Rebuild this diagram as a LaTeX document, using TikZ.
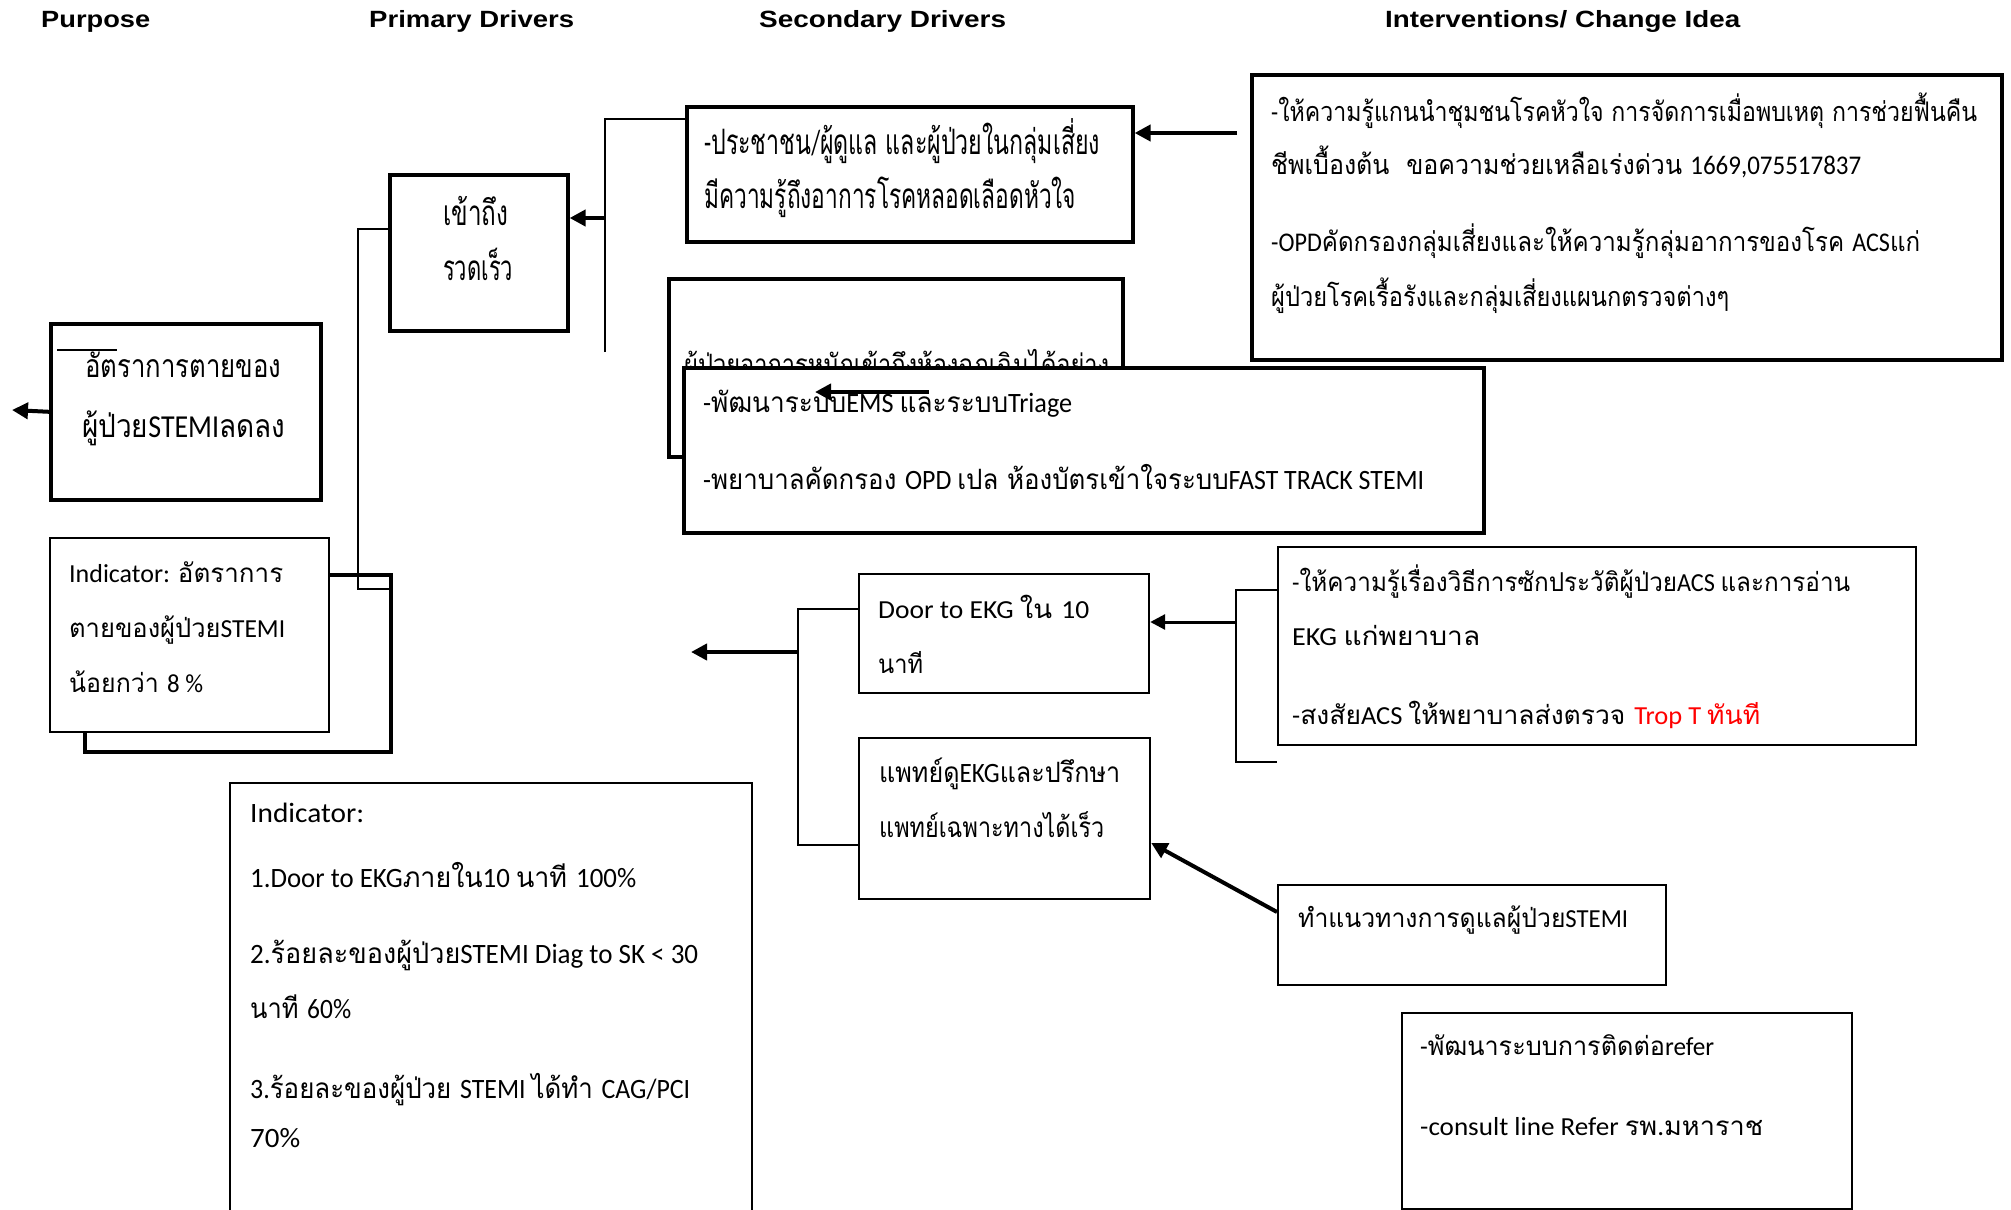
\documentclass[tikz,border=0pt]{standalone}
\usepackage{fontspec}
\usepackage{graphicx}
\usetikzlibrary{arrows.meta,calc}
\setmainfont{Carlito}
\newfontfamily\thaifont[Script=Thai]{Loma}
\newfontfamily\hdrfont{Liberation Sans}
\XeTeXinterchartokenstate=1
\newXeTeXintercharclass\ThaiClass
\newcount\thaicnt
\thaicnt="0E00
\loop
  \XeTeXcharclass\thaicnt=\ThaiClass
  \ifnum\thaicnt<"0E7F
  \advance\thaicnt by 1
\repeat
\XeTeXinterchartoks 0 \ThaiClass = {\thaifont}
\XeTeXinterchartoks 4095 \ThaiClass = {\thaifont}
\XeTeXinterchartoks \ThaiClass 0 = {\rmfamily}
\XeTeXinterchartoks 4095 0 = {\rmfamily}
\newcommand\hdrsel{\XeTeXinterchartokenstate=0 \hdrfont\bfseries\fontsize{23.5}{28}\selectfont}
\tikzset{
  thickbox/.style={draw, line width=3.6pt, fill=white, inner sep=0pt, anchor=north west},
  medbox/.style={draw, line width=2.2pt, fill=white, inner sep=0pt, anchor=north west},
  thinbox/.style={draw, line width=1.5pt, fill=white, inner sep=0pt, anchor=north west},
  txt/.style={anchor=base west, inner sep=0pt},
  hdr/.style={anchor=base west, inner sep=0pt, font=\hdrsel},
  conn/.style={line width=1.5pt},
  arr/.style={line width=4pt, -{Triangle[length=16pt,width=16pt]}},
  arrthin/.style={line width=3pt, -{Triangle[length=15pt,width=15pt]}}
}
% name, x, baseline y, width, font size, text
\newcommand\tline[6]{\node[txt, font=\fontsize{#5}{#5}\selectfont] (#1) at (#2,#3) {\resizebox{#4pt}{\height}{#6}};}
\newcommand\hdrline[5]{\node[hdr] (#1) at (#2,#3) {\resizebox{#4pt}{\height}{#5}};}
\begin{document}
\begin{tikzpicture}[x=1pt,y=-1pt]
\useasboundingbox (0,0) rectangle (2011,1210);
\fill[white] (0,0) rectangle (2011,1210);

% headers
\hdrline{h1}{41}{27}{109}{Purpose}
\hdrline{h2}{369}{27}{205}{Primary Drivers}
\hdrline{h3}{759}{27}{247}{Secondary Drivers}
\hdrline{h4}{1385}{27}{355}{Interventions/ Change Idea}

% purpose box
\node[thickbox, minimum width=270pt, minimum height=176pt] (A) at (49,322) {};
\tline{a1}{85}{377}{196}{32}{อัตราการตายของ}
\tline{a2}{82}{437}{203}{32}{ผู้ป่วยSTEMIลดลง}
\coordinate (sl1) at (57,350);
\coordinate (sl2) at (117,350);
\draw[line width=1.6pt] (sl1) -- (sl2);
\coordinate (outA) at (12,410);
\draw[arr] (A.west) -- (outA);

% hidden thick frame and indicator 1
\node[thickbox, minimum width=306pt, minimum height=177pt] (P2) at (83,573) {};
\node[thinbox, minimum width=279pt, minimum height=194pt] (B) at (49,537) {};
\tline{b1}{69}{582}{214}{26}{Indicator: อัตราการ}
\tline{b2}{69}{637}{216}{26}{ตายของผู้ป่วยSTEMI}
\tline{b3}{69}{692}{134}{26}{น้อยกว่า 8 \%}

% primary driver box
\node[thickbox, minimum width=178pt, minimum height=156pt] (C) at (388,173) {};
\tline{c1}{443}{225}{65}{35}{เข้าถึง}
\tline{c2}{443}{280}{70}{35}{รวดเร็ว}

\coordinate (pc) at (358,229);
\coordinate (pcb) at (358,589);
\draw[conn] (pc -| C.west) -- (pc) -- (pcb) -- (pcb -| P2.east);

% secondary box 1
\node[thickbox, minimum width=446pt, minimum height=135pt] (D) at (685,105) {};
\tline{d1}{704}{154}{396}{35}{-ประชาชน/ผู้ดูแล และผู้ป่วยในกลุ่มเสี่ยง}
\tline{d2}{704}{208}{372}{35}{มีความรู้ถึงอาการโรคหลอดเลือดหัวใจ}

\coordinate (cbtop) at (605,119);
\coordinate (cbbot) at (605,352);
\coordinate (cbm) at (605,218);
\draw[conn] (cbbot) -- (cbtop) -- (cbtop -| D.west);
\draw[arr] (cbm) -- (cbm -| C.east);

% intervention box 1
\node[thickbox, minimum width=750pt, minimum height=285pt] (E) at (1250,73) {};
\tline{e1}{1271}{121}{706}{27}{-ให้ความรู้แกนนำชุมชนโรคหัวใจ การจัดการเมื่อพบเหตุ การช่วยฟื้นคืน}
\tline{e2}{1271}{174}{590}{27}{ชีพเบื้องต้น\ \ ขอความช่วยเหลือเร่งด่วน 1669,075517837}
\tline{e3}{1271}{251}{649}{27}{-OPDคัดกรองกลุ่มเสี่ยงและให้ความรู้กลุ่มอาการของโรค ACSแก่}
\tline{e4}{1271}{306}{458}{27}{ผู้ป่วยโรคเรื้อรังและกลุ่มเสี่ยงแผนกตรวจต่างๆ}
\coordinate (ea) at (1237,133);
\draw[arr] (ea) -- (ea -| D.east);

% secondary box 2 (partly hidden) and box 3
\node[thickbox, minimum width=454pt, minimum height=178pt] (F) at (667,277) {};
\tline{f1}{684}{374}{425}{28}{ผู้ป่วยอาการหนักเข้าถึงห้องฉุกเฉินได้อย่าง}
\node[thickbox, minimum width=800pt, minimum height=165pt] (G) at (682,366) {};
\tline{g1}{703}{412}{369}{28}{-พัฒนาระบบEMS และระบบTriage}
\tline{g2}{703}{489}{721}{28}{-พยาบาลคัดกรอง OPD เปล ห้องบัตรเข้าใจระบบFAST TRACK STEMI}
\coordinate (sa1) at (929,392);
\coordinate (sa2) at (815,392);
\draw[arr] (sa1) -- (sa2);

% door to EKG and consult boxes
\node[medbox, minimum width=290pt, minimum height=119pt] (H) at (858,573) {};
\tline{h5}{878}{618}{211}{26}{Door to EKG ใน 10}
\tline{h6}{878}{673}{45}{26}{นาที}
\node[medbox, minimum width=291pt, minimum height=161pt] (I) at (858,737) {};
\tline{i1}{879}{782}{241}{28}{แพทย์ดูEKGและปรึกษา}
\tline{i2}{879}{837}{225}{28}{แพทย์เฉพาะทางได้เร็ว}

\coordinate (hit) at (798,609);
\coordinate (hibt) at (798,845);
\coordinate (hib) at (798,652);
\coordinate (hio) at (691,652);
\draw[conn] (hit -| H.west) -- (hit) -- (hibt) -- (hibt -| I.west);
\draw[arr] (hib) -- (hio);

% intervention box 2
\node[medbox, minimum width=638pt, minimum height=198pt] (J) at (1277,546) {};
\tline{j1}{1292}{591}{558}{26}{-ให้ความรู้เรื่องวิธีการซักประวัติผู้ป่วยACS และการอ่าน}
\tline{j2}{1292}{645}{188}{26}{EKG แก่พยาบาล}
\tline{j3}{1292}{724}{468}{26}{-สงสัยACS ให้พยาบาลส่งตรวจ \textcolor{red}{Trop T ทันที}}
\coordinate (jt) at (1236,590);
\coordinate (jbb) at (1236,762);
\coordinate (jbm) at (1236,622);
\draw[conn] (jt -| J.west) -- (jt) -- (jbb) -- (jbb -| J.west);
\draw[arrthin] (jbm) -- (jbm -| H.east);

% guideline box
\node[medbox, minimum width=388pt, minimum height=100pt] (K) at (1277,884) {};
\tline{k1}{1298}{927}{330}{26}{ทำแนวทางการดูแลผู้ป่วยSTEMI}
\draw[arr] ($(K.north west)+(0,28)$) -- ($(I.north east)+(0,106)$);

% refer box
\node[medbox, minimum width=450pt, minimum height=196pt] (L) at (1401,1012) {};
\tline{l1}{1420}{1055}{294}{26}{-พัฒนาระบบการติดต่อrefer}
\tline{l2}{1420}{1135}{343}{26}{-consult line Refer รพ.มหาราช}

% indicator 2
\node[thinbox, minimum width=522pt, minimum height=443pt] (M) at (229,782) {};
\tline{m1}{250}{822}{114}{28}{Indicator:}
\tline{m2}{250}{887}{386}{28}{1.Door to EKGภายใน10 นาที 100\%}
\tline{m3}{250}{963}{448}{28}{2.ร้อยละของผู้ป่วยSTEMI Diag to SK < 30}
\tline{m4}{250}{1018}{101}{28}{นาที 60\%}
\tline{m5}{250}{1098}{440}{28}{3.ร้อยละของผู้ป่วย STEMI ได้ทำ CAG/PCI}
\tline{m6}{250}{1147}{50}{28}{70\%}
\end{tikzpicture}
\end{document}
